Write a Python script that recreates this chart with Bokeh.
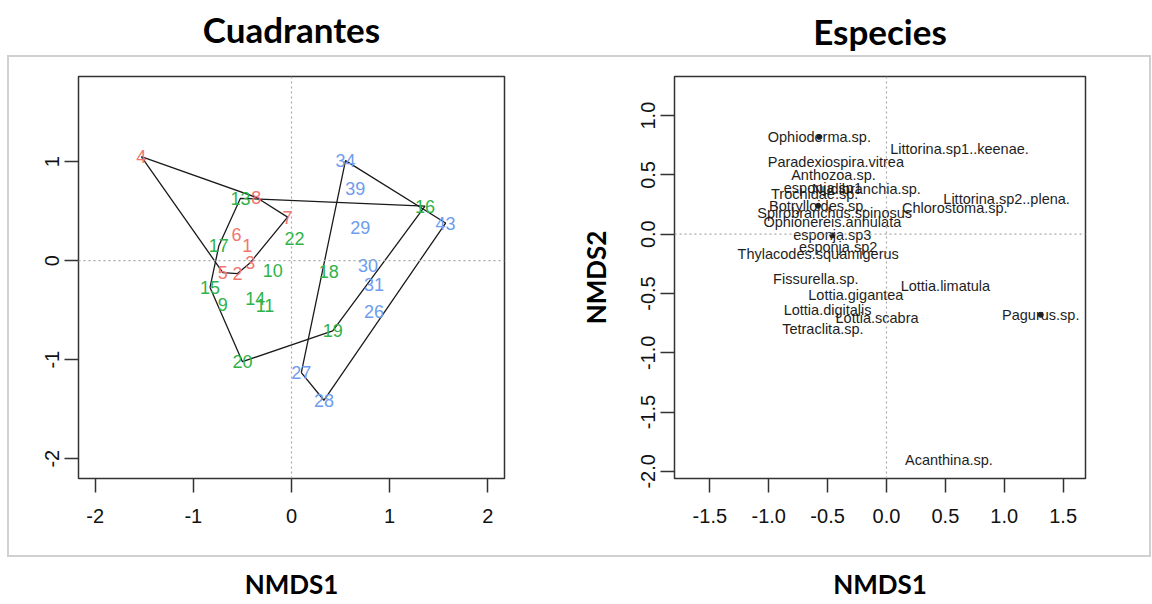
from bokeh.plotting import figure
from bokeh.layouts import row
from bokeh.models import Range1d, Span, FixedTicker, InlineStyleSheet, LinearAxis
from bokeh.core.properties import value
from bokeh.embed import file_html
from bokeh.resources import INLINE

# ---- Cuadrantes (site scores) ----
quad_labels = ["1", "2", "3", "4", "5", "6", "7", "8",
               "9", "10", "11", "13", "14", "15", "16", "17", "18", "19", "20", "22",
               "26", "27", "28", "29", "30", "31", "34", "39", "43"]
quad_x = [-0.45, -0.55, -0.42, -1.53, -0.70, -0.56, -0.04, -0.36,
          -0.70, -0.19, -0.27, -0.52, -0.37, -0.83, 1.36, -0.74, 0.38, 0.42, -0.50, 0.03,
          0.84, 0.10, 0.33, 0.70, 0.78, 0.84, 0.55, 0.65, 1.57]
quad_y = [0.15, -0.13, -0.02, 1.05, -0.12, 0.26, 0.44, 0.64,
          -0.44, -0.10, -0.45, 0.63, -0.38, -0.27, 0.55, 0.15, -0.11, -0.71, -1.02, 0.22,
          -0.51, -1.13, -1.41, 0.33, -0.05, -0.24, 1.01, 0.73, 0.38]
quad_group = [1] * 8 + [2] * 12 + [3] * 9
group_colors = {1: "#F2766F", 2: "#2FB34A", 3: "#6E9CEE"}

# ---- Especies (species scores) ----
sp_names = ["Ophioderma.sp.", "Littorina.sp1..keenae.", "Paradexiospira.vitrea", "Anthozoa.sp.",
            "esponja.sp1", "Nudibranchia.sp.", "Trochidae.sp.", "Littorina.sp2..plena.",
            "Chlorostoma.sp.", "Botrylloides.sp.", "Spirobranchus.spinosus",
            "Ophionereis.annulata", "esponja.sp3", "esponja.sp2", "Thylacodes.squamigerus",
            "Fissurella.sp.", "Lottia.limatula", "Lottia.gigantea", "Lottia.digitalis",
            "Lottia.scabra", "Tetraclita.sp.", "Pagurus.sp.", "Acanthina.sp."]
sp_x = [-0.57, 0.62, -0.43, -0.45,
        -0.54, -0.17, -0.61, 1.02,
        0.58, -0.58, -0.44,
        -0.46, -0.46, -0.41, -0.58,
        -0.60, 0.50, -0.26, -0.50,
        -0.08, -0.54, 1.31, 0.53]
sp_y = [0.82, 0.72, 0.61, 0.50,
        0.39, 0.38, 0.34, 0.30,
        0.22, 0.24, 0.18,
        0.10, -0.01, -0.11, -0.17,
        -0.38, -0.44, -0.51, -0.64,
        -0.71, -0.80, -0.68, -1.90]
# species whose point symbol shows beside the label
sp_marked = ["Ophioderma.sp.", "Botrylloides.sp.", "esponja.sp3", "Pagurus.sp."]

left_xticks = [-2, -1, 0, 1, 2]
left_yticks = [-2, -1, 0, 1]
right_xticks = [-1.5, -1.0, -0.5, 0.0, 0.5, 1.0, 1.5]
right_yticks = [-2.0, -1.5, -1.0, -0.5, 0.0, 0.5, 1.0]

FONT = value("Liberation Sans")


def convex_hull(pts):
    pts = sorted(set(pts))

    def cross(o, a, b):
        return (a[0] - o[0]) * (b[1] - o[1]) - (a[1] - o[1]) * (b[0] - o[0])

    lower, upper = [], []
    for p in pts:
        while len(lower) >= 2 and cross(lower[-2], lower[-1], p) <= 0:
            lower.pop()
        lower.append(p)
    for p in reversed(pts):
        while len(upper) >= 2 and cross(upper[-2], upper[-1], p) <= 0:
            upper.pop()
        upper.append(p)
    return lower[:-1] + upper[:-1]


def style_axes(p, xticks, yticks, fmt):
    xax, yax = p.below[0], p.left[0]
    xax.ticker = FixedTicker(ticks=xticks)
    yax.ticker = FixedTicker(ticks=yticks)
    xax.major_label_overrides = {t: fmt(t) for t in xticks}
    yax.major_label_overrides = {t: fmt(t) for t in yticks}
    for ax in (xax, yax):
        ax.axis_line_color = None
        ax.major_tick_in = 0
        ax.major_tick_out = 14
        ax.major_tick_line_color = "#333333"
        ax.major_tick_line_width = 1.5
        ax.minor_tick_line_color = None
        ax.major_label_text_font = "Liberation Sans"
        ax.major_label_text_font_size = "20px"
        ax.major_label_text_color = "#111111"
        ax.axis_label_text_font = "Lato"
        ax.axis_label_text_font_style = "bold"
        ax.axis_label_text_font_size = "26px"
        ax.axis_label_text_color = "#000000"
    xax.major_label_standoff = 16
    yax.major_label_standoff = 5
    yax.major_label_orientation = "vertical"
    p.xgrid.visible = False
    p.ygrid.visible = False
    p.outline_line_color = "#333333"
    p.outline_line_width = 1.5
    p.outline_line_alpha = 1.0
    for dim in ("width", "height"):
        p.add_layout(Span(location=0, dimension=dim, line_color="#a8a8a8",
                          line_dash="2 3", line_width=1.2))
    return xax, yax


def add_heading(p, text, standoff):
    # heading drawn as the label of a tick-less axis above the frame
    head = LinearAxis(ticker=FixedTicker(ticks=[]), axis_label=text,
                      axis_line_color=None, major_tick_line_color=None,
                      minor_tick_line_color=None, axis_label_standoff=standoff,
                      axis_label_text_font="Lato", axis_label_text_font_style="bold",
                      axis_label_text_font_size="35px", axis_label_text_color="#000000")
    p.add_layout(head, "above")


# left panel: site scores with group hulls
p1 = figure(width=576, height=604, x_range=Range1d(-2.17, 2.17), y_range=Range1d(-2.20, 1.86),
            output_backend="svg", toolbar_location=None,
            min_border_left=78, min_border_right=72, min_border_top=76, min_border_bottom=126)
x1, y1 = style_axes(p1, left_xticks, left_yticks, lambda t: str(t))
x1.axis_label = "NMDS1"
x1.axis_label_standoff = 42
add_heading(p1, "Cuadrantes", 27)

for g in (1, 2, 3):
    pts = [(x, y) for x, y, gg in zip(quad_x, quad_y, quad_group) if gg == g]
    hull = convex_hull(pts)
    hull.append(hull[0])
    p1.line([h[0] for h in hull], [h[1] for h in hull], line_color="#1a1a1a", line_width=1.3)

p1.text(x=quad_x, y=quad_y, text=quad_labels, text_align="center", text_baseline="middle",
        text_font=FONT, text_font_size="18px",
        text_color=[group_colors[g] for g in quad_group])

# right panel: species scores
p2 = figure(width=576, height=604, x_range=Range1d(-1.80, 1.69), y_range=Range1d(-2.06, 1.33),
            output_backend="svg", toolbar_location=None,
            min_border_left=98, min_border_right=67, min_border_top=74, min_border_bottom=126)
x2, y2 = style_axes(p2, right_xticks, right_yticks, lambda t: f"{t:.1f}")
x2.axis_label = "NMDS1"
x2.axis_label_standoff = 42
y2.axis_label = "NMDS2"
y2.axis_label_standoff = 27
add_heading(p2, "Especies", 25)

mx = [x for x, n in zip(sp_x, sp_names) if n in sp_marked]
my = [y for y, n in zip(sp_y, sp_names) if n in sp_marked]
p2.scatter(x=mx, y=my, size=5, marker="circle", fill_color="#222222", line_color="#222222")
p2.text(x=sp_x, y=sp_y, text=sp_names, text_align="center", text_baseline="middle",
        text_font=FONT, text_font_size="14.5px", text_color="#1e1e1e")

# light grey frame around both panels
frame_css = InlineStyleSheet(css="""
:host { position: relative; }
:host::after {
  content: ""; position: absolute; left: 7px; top: 55px;
  width: 1140px; height: 498px; border: 2px solid #d0d0d0; pointer-events: none;
}
""")

layout = row(p1, p2, spacing=0, stylesheets=[frame_css])
open("out.html", "w").write(file_html(layout, INLINE))
